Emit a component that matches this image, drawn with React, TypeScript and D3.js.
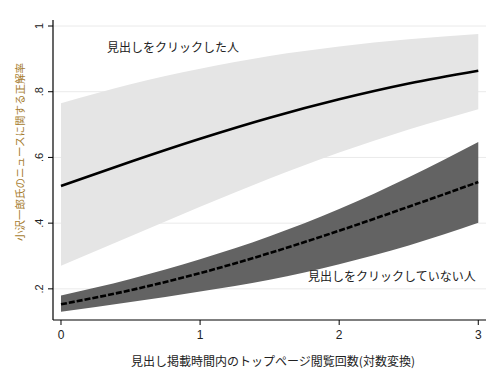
import React from "react";
import * as d3 from "d3";

const xs = [0, 0.5, 1, 1.5, 2, 2.5, 3];
const clickedMean = [0.513, 0.587, 0.657, 0.721, 0.777, 0.825, 0.864];
const clickedUpper = [0.765, 0.823, 0.87, 0.909, 0.938, 0.96, 0.976];
const clickedLower = [0.27, 0.36, 0.45, 0.536, 0.615, 0.685, 0.747];
const notClickedMean = [0.153, 0.196, 0.248, 0.309, 0.377, 0.45, 0.525];
const notClickedUpper = [0.18, 0.23, 0.29, 0.36, 0.443, 0.54, 0.647];
const notClickedLower = [0.13, 0.16, 0.192, 0.228, 0.275, 0.332, 0.401];
const xTicks = [0, 1, 2, 3];
const yTicks = [0.2, 0.4, 0.6, 0.8, 1];
const yTickLabels = [".2", ".4", ".6", ".8", "1"];
const xTitle = "見出し掲載時間内のトップページ閲覧回数(対数変換)";
const yTitle = "小沢一郎氏のニュースに関する正解率";
const labelClicked = "見出しをクリックした人";
const labelNotClicked = "見出しをクリックしていない人";

const W = 492;
const H = 374;
const left = 53;
const right = 486;
const top = 20;
const bottom = 320;

export default function App() {
  const x = d3.scaleLinear().domain([-0.0575, 3.0555]).range([left, right]);
  const y = d3.scaleLinear().domain([0.1052, 1.0183]).range([bottom, top]);
  const font = "'Noto Sans CJK JP', 'Liberation Sans', sans-serif";

  const area = (lo: number[], hi: number[]) =>
    d3
      .area<number>()
      .x((d) => x(d))
      .y0((_, i) => y(lo[i]))
      .y1((_, i) => y(hi[i]))
      .curve(d3.curveMonotoneX)(xs) || "";
  const line = (v: number[]) =>
    d3
      .line<number>()
      .x((d) => x(d))
      .y((_, i) => y(v[i]))
      .curve(d3.curveMonotoneX)(xs) || "";

  return (
    <svg
      width={W}
      height={H}
      style={{ position: "absolute", left: 0, top: 0, background: "#fff" }}
    >
      {yTicks.map((t) => (
        <line key={"g" + t} x1={left} x2={right} y1={y(t)} y2={y(t)} stroke="#eaeaea" strokeWidth={1} />
      ))}
      <path d={area(clickedLower, clickedUpper)} fill="#e5e5e5" />
      <path d={area(notClickedLower, notClickedUpper)} fill="#636363" />
      <path d={line(clickedMean)} fill="none" stroke="#000" strokeWidth={2.6} />
      <path
        d={line(notClickedMean)}
        fill="none"
        stroke="#000"
        strokeWidth={2.6}
        strokeDasharray="6 2"
      />
      <line x1={left} x2={left} y1={top} y2={bottom} stroke="#000" strokeWidth={1.2} />
      <line x1={left} x2={right} y1={bottom} y2={bottom} stroke="#000" strokeWidth={1.2} />
      {yTicks.map((t, i) => (
        <g key={"y" + t}>
          <line x1={left - 5} x2={left} y1={y(t)} y2={y(t)} stroke="#000" strokeWidth={1} />
          <text
            transform={`translate(${left - 10},${y(t)}) rotate(-90)`}
            textAnchor="middle"
            fontFamily="'Liberation Sans', Arial, sans-serif"
            fontSize={11}
            fill="#222"
          >
            {yTickLabels[i]}
          </text>
        </g>
      ))}
      {xTicks.map((t) => (
        <g key={"x" + t}>
          <line x1={x(t)} x2={x(t)} y1={bottom} y2={bottom + 5} stroke="#000" strokeWidth={1} />
          <text
            x={x(t)}
            y={bottom + 19}
            textAnchor="middle"
            fontFamily="'Liberation Sans', Arial, sans-serif"
            fontSize={12}
            fill="#222"
          >
            {t}
          </text>
        </g>
      ))}
      <text x={273} y={366} textAnchor="middle" fontFamily={font} fontSize={12} fill="#222">
        {xTitle}
      </text>
      <text
        transform={`translate(24,152) rotate(-90)`}
        textAnchor="middle"
        fontFamily={font}
        fontSize={10.5}
        fill="#a67c2e"
      >
        {yTitle}
      </text>
      <text x={107} y={52} fontFamily={font} fontSize={12} fill="#222">
        {labelClicked}
      </text>
      <text x={308} y={281} fontFamily={font} fontSize={12} fill="#222">
        {labelNotClicked}
      </text>
    </svg>
  );
}
